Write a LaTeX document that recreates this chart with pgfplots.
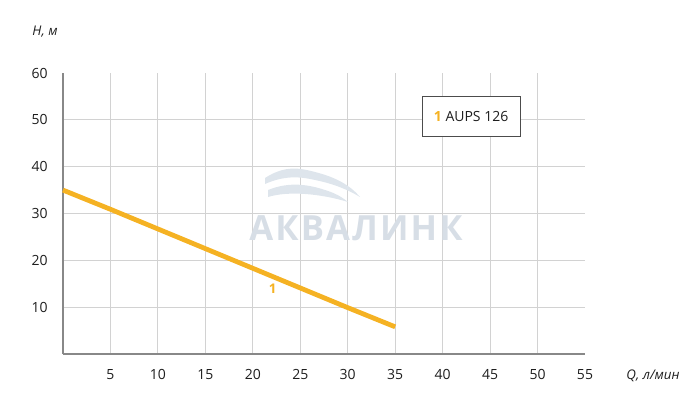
\documentclass[border=0pt]{standalone}
\usepackage{fontspec}
\setmainfont{Open Sans}
\usepackage{pgfplots}
\pgfplotsset{compat=1.18}
\definecolor{lineor}{RGB}{245,178,35}
\definecolor{axgray}{RGB}{136,136,136}
\definecolor{gridgray}{RGB}{210,210,210}
\definecolor{txt}{RGB}{30,30,30}
\definecolor{wm}{RGB}{215,222,230}
\definecolor{wmw}{RGB}{222,229,236}
\begin{document}
\begin{tikzpicture}
\useasboundingbox (0,0) rectangle (525pt,306pt);
\begin{axis}[
  at={(47.25pt,40.5pt)}, anchor=south west,
  scale only axis, width=391.5pt, height=210.75pt,
  xmin=0, xmax=55, ymin=0, ymax=60,
  axis x line=bottom, axis y line=left,
  axis line style={-, axgray, line width=2.2pt},
  xtick={5,10,...,50}, ytick={10,20,...,50},
  extra x ticks={55}, extra y ticks={60},
  extra tick style={grid=none},
  major tick length=0pt,
  grid=major, grid style={gridgray, line width=0.8pt},
  tick label style={font=\fontsize{10.5}{12}\selectfont, text=txt},
  /pgf/number format/assume math mode=true,
  xticklabel style={yshift=-8pt},
  yticklabel style={xshift=-8pt},
  clip=false,
]
\addplot[lineor, line width=3.6pt] coordinates {
  (0,35) (5,30.9) (10,26.7) (15,22.5) (20,18.3) (25,14.1) (30,9.9) (35,5.8)
};
\node[text=lineor, font=\fontsize{10}{12}\selectfont\bfseries] at (axis cs:22.1,14) {1};
\node[draw=black!70, line width=0.8pt, fill=white, minimum width=73.5pt, minimum height=30pt, inner sep=0pt,
  font=\fontsize{10.5}{12}\selectfont, text=txt] at (axis cs:43,50.65) {{\color{lineor}\bfseries 1} AUPS 126};
\end{axis}
\begin{scope}[shift={(0pt,306pt)}, x=0.75pt, y=-0.75pt]
  \fill[wmw] (265,178) .. controls (285,165) and (300,168) .. (315,172)
     .. controls (335,177) and (350,185) .. (360,197)
     .. controls (345,188) and (330,183) .. (315,180)
     .. controls (298,176) and (283,176) .. (265,184) -- cycle;
  \fill[wmw] (268,190) .. controls (290,181) and (310,185) .. (325,190)
     .. controls (335,193) and (342,197) .. (348,202)
     .. controls (335,198) and (320,195) .. (305,194)
     .. controls (290,193) and (278,194) .. (268,197) -- cycle;
  \node[text=wm, font=\fontsize{26}{30}\selectfont\bfseries\addfontfeatures{LetterSpace=6}] at (356,228) {АКВАЛИНК};
  \node[text=txt, font=\fontsize{10}{12}\selectfont\itshape] at (45,32) {H, м};
  \node[text=txt, font=\fontsize{10}{12}\selectfont\itshape] at (653,376) {Q, л/мин};
\end{scope}
\end{tikzpicture}
\end{document}
